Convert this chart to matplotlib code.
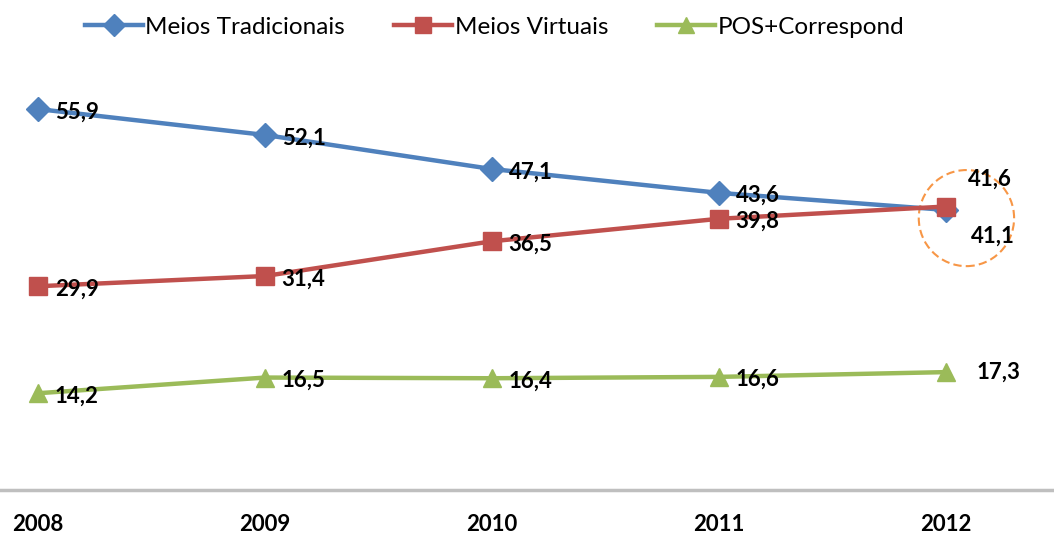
import matplotlib.pyplot as plt
from matplotlib.patches import Ellipse

# Dados
anos = [2008, 2009, 2010, 2011, 2012]
tradicionais = [55.9, 52.1, 47.1, 43.6, 41.1]
virtuais = [29.9, 31.4, 36.5, 39.8, 41.6]
pos_corresp = [14.2, 16.5, 16.4, 16.6, 17.3]
series_nomes = ['Meios Tradicionais', 'Meios Virtuais', 'POS+Correspond']

plt.rcParams['font.family'] = ['Lato', 'DejaVu Sans']

fig = plt.figure(figsize=(10.54, 5.35), dpi=100)
ax = fig.add_axes([0, 45 / 535, 1, 430 / 535])

ax.plot(anos, tradicionais, color='#4F81BD', lw=3.2, marker='D', ms=12,
        label=series_nomes[0], zorder=3)
ax.plot(anos, virtuais, color='#C0504D', lw=3.2, marker='s', ms=13,
        label=series_nomes[1], zorder=4)
ax.plot(anos, pos_corresp, color='#9BBB59', lw=3.2, marker='^', ms=13,
        label=series_nomes[2], zorder=3)


def fmt(v):
    return '{:.1f}'.format(v).replace('.', ',')


# rótulos de dados
for serie in (tradicionais, virtuais, pos_corresp):
    for i, (x, y) in enumerate(zip(anos, serie)):
        if x == 2012:
            continue
        ax.annotate(fmt(y), (x, y), xytext=(12, -2), textcoords='offset points',
                    ha='left', va='center', fontsize=16, fontweight='bold',
                    zorder=5)

ax.annotate(fmt(virtuais[-1]), (anos[-1], virtuais[-1]), xytext=(16, 20),
            textcoords='offset points', ha='left', va='center',
            fontsize=16, fontweight='bold')
ax.annotate(fmt(tradicionais[-1]), (anos[-1], tradicionais[-1]), xytext=(18, -19),
            textcoords='offset points', ha='left', va='center',
            fontsize=16, fontweight='bold')
ax.annotate(fmt(pos_corresp[-1]), (anos[-1], pos_corresp[-1]), xytext=(22, 0),
            textcoords='offset points', ha='left', va='center',
            fontsize=16, fontweight='bold')

# círculo de destaque
ax.add_patch(Ellipse((2012.09, 39.9), 0.42, 14.1, fill=False, ec='#F79646',
                     ls=(0, (4, 2)), lw=1.5, zorder=2))

ax.set_xlim(2008 - 38 / 227, 2008 + 1016 / 227)
ax.set_ylim(0, 63.1)
ax.set_xticks(anos)
ax.set_xticklabels([str(a) for a in anos], fontsize=16, fontweight='bold')
ax.tick_params(axis='x', length=0, pad=17)
ax.set_yticks([])
for s in ('top', 'right', 'left'):
    ax.spines[s].set_visible(False)
ax.spines['bottom'].set_color('#BFBFBF')
ax.spines['bottom'].set_linewidth(2.5)

fig.legend(loc='upper center', bbox_to_anchor=(0.469, 1.01), ncol=3,
           frameon=False, fontsize=17.5, handlelength=2.4, columnspacing=2.0,
           handletextpad=0.1, markerscale=0.9)

plt.savefig('out.png')
